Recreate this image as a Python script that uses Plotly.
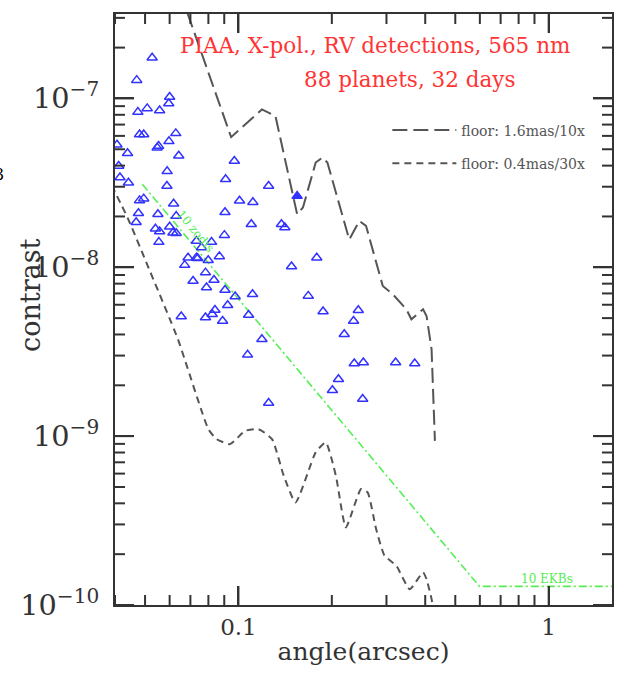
import math
import plotly.graph_objects as go

# ---------------- data ----------------
planet_angle = [0.0527, 0.0470, 0.0600, 0.0596, 0.0474, 0.0508, 0.0557, 0.0480, 0.0495, 0.0628,
                0.0597, 0.0553, 0.0547, 0.0406, 0.0439, 0.0642, 0.0411, 0.0415, 0.0442, 0.0589,
                0.0588, 0.0970, 0.0909, 0.0480, 0.0495, 0.0618, 0.1008, 0.1113, 0.0476, 0.0550,
                0.0905, 0.0630, 0.0468, 0.0540, 0.0557, 0.0600, 0.0615, 0.0630, 0.1100, 0.1376,
                0.1411, 0.0901, 0.0554, 0.0732, 0.0819, 0.0760, 0.0688, 0.0732, 0.0739, 0.0799,
                0.0868, 0.0671, 0.1483, 0.0783, 0.0714, 0.0834, 0.0789, 0.0905, 0.0976, 0.1110,
                0.1679, 0.0923, 0.0840, 0.0823, 0.0654, 0.0783, 0.0889, 0.1078, 0.1190, 0.1070,
                0.1251, 0.1788, 0.1874, 0.2434, 0.2350, 0.2193, 0.2362, 0.2527, 0.3211, 0.3700,
                0.2101, 0.2009, 0.2514, 0.1251]
planet_contrast = [1.74e-7, 1.283e-7, 1.02e-7, 9.34e-8, 8.30e-8, 8.73e-8, 8.49e-8, 6.12e-8, 6.12e-8, 6.21e-8,
                   5.57e-8, 5.22e-8, 5.11e-8, 5.32e-8, 4.73e-8, 4.58e-8, 3.98e-8, 3.40e-8, 3.17e-8, 3.70e-8,
                   3.03e-8, 4.26e-8, 3.32e-8, 2.49e-8, 2.55e-8, 2.38e-8, 2.48e-8, 2.43e-8, 2.09e-8, 2.06e-8,
                   2.12e-8, 2.01e-8, 1.85e-8, 1.69e-8, 1.63e-8, 1.74e-8, 1.60e-8, 1.59e-8, 1.80e-8, 1.80e-8,
                   1.72e-8, 1.55e-8, 1.41e-8, 1.43e-8, 1.41e-8, 1.31e-8, 1.14e-8, 1.14e-8, 1.13e-8, 1.10e-8,
                   1.16e-8, 1.03e-8, 1.01e-8, 9.30e-9, 8.30e-9, 8.41e-9, 7.59e-9, 7.34e-9, 6.71e-9, 6.92e-9,
                   6.77e-9, 5.96e-9, 5.59e-9, 5.27e-9, 5.11e-9, 5.04e-9, 4.81e-9, 5.22e-9, 3.75e-9, 3.03e-9,
                   3.03e-8, 1.14e-8, 5.47e-9, 5.57e-9, 4.81e-9, 4.01e-9, 2.69e-9, 2.73e-9, 2.73e-9, 2.69e-9,
                   2.17e-9, 1.87e-9, 1.66e-9, 1.57e-9]
filled_angle = [0.1546]
filled_contrast = [2.64e-8]

floor_16_angle = [0.0685, 0.0947, 0.1190, 0.1316, 0.1546, 0.1614, 0.1774, 0.1864, 0.1935, 0.2276,
                  0.2453, 0.2578, 0.2919, 0.3145, 0.3477, 0.3609, 0.3937, 0.4039, 0.4193, 0.4298]
floor_16_contrast = [3.2e-7, 5.90e-8, 8.61e-8, 7.86e-8, 2.06e-8, 2.26e-8, 4.17e-8, 4.46e-8, 4.17e-8, 1.46e-8,
                     1.88e-8, 1.76e-8, 7.75e-9, 6.92e-9, 5.64e-9, 4.92e-9, 5.64e-9, 5.15e-9, 3.27e-9, 9.38e-10]

floor_04_angle = [0.039, 0.0439, 0.0510, 0.0638, 0.0800, 0.0850, 0.0940, 0.1051, 0.1161, 0.1283,
                  0.1400, 0.1528, 0.1774, 0.1912, 0.2061, 0.2220, 0.2484, 0.2609, 0.2778, 0.2957,
                  0.3228, 0.3564, 0.3937, 0.4039, 0.4193, 0.427]
floor_04_contrast = [3.06e-8, 1.97e-8, 1.02e-8, 3.75e-9, 1.10e-9, 9.6e-10, 8.97e-10, 1.075e-9, 1.10e-9, 9.6e-10,
                     5.82e-10, 4.05e-10, 8.01e-10, 9.18e-10, 5.82e-10, 2.88e-10, 4.86e-10, 4.64e-10, 2.82e-10, 1.96e-10,
                     1.71e-10, 1.24e-10, 1.56e-10, 1.42e-10, 1.085e-10, 9e-11]

zodi_angle = [0.049, 0.598, 1.7]
zodi_contrast = [3.1e-8, 1.29e-10, 1.29e-10]

legend_labels = ["floor: 1.6mas/10x", "floor: 0.4mas/30x"]
title_lines = ["PIAA, X-pol., RV detections, 565 nm", "88 planets, 32 days"]

# axis settings
x_range = [0.04, 1.6]
y_range = [1e-10, 10 ** -6.5]
x_major = [0.01, 0.1, 1.0, 10.0]
y_major = [1e-10, 1e-9, 1e-8, 1e-7]
x_minor = [k * 10.0 ** e for e in (-2, -1, 0) for k in range(2, 10)]
y_minor = [k * 10.0 ** e for e in (-10, -9, -8, -7) for k in range(2, 10)]

# ---------------- layout constants ----------------
W, H = 625, 685
ML, MR, MT, MB = 115, 13, 14, 80
PLOT_W, PLOT_H = W - ML - MR, H - MT - MB
MAJOR_LEN, MINOR_LEN = 19, 10

SERIF = "DejaVu Serif"
GRAY = "#555555"
AX = "#333333"
BLUE = "rgb(50,50,255)"
GREEN = "#55ee55"
RED = "#ff3535"

xr = [math.log10(v) for v in x_range]
yr = [math.log10(v) for v in y_range]


def frac(v, r):
    return (math.log10(v) - r[0]) / (r[1] - r[0])


# inward tick marks on all four sides, placed with the axis' own log mapping (paper fractions)
tick_shapes = []
for vals, length in ((x_major, MAJOR_LEN), (x_minor, MINOR_LEN)):
    d = length / PLOT_H
    for v in vals:
        f = frac(v, xr)
        if 0 <= f <= 1:
            tick_shapes.append(dict(type="line", xref="paper", yref="paper", x0=f, x1=f, y0=0, y1=d,
                                    line=dict(color=AX, width=2), layer="above"))
            tick_shapes.append(dict(type="line", xref="paper", yref="paper", x0=f, x1=f, y0=1, y1=1 - d,
                                    line=dict(color=AX, width=2), layer="above"))
for vals, length in ((y_major, MAJOR_LEN), (y_minor, MINOR_LEN)):
    d = length / PLOT_W
    for v in vals:
        f = frac(v, yr)
        if 0 <= f <= 1:
            tick_shapes.append(dict(type="line", xref="paper", yref="paper", x0=0, x1=d, y0=f, y1=f,
                                    line=dict(color=AX, width=2), layer="above"))
            tick_shapes.append(dict(type="line", xref="paper", yref="paper", x0=1, x1=1 - d, y0=f, y1=f,
                                    line=dict(color=AX, width=2), layer="above"))

# ---------------- figure ----------------
fig = go.Figure()

fig.add_trace(go.Scatter(x=zodi_angle, y=zodi_contrast, mode="lines",
                         line=dict(color=GREEN, width=1.6, dash="8px,3px,2px,3px"),
                         showlegend=False, hoverinfo="skip"))
fig.add_trace(go.Scatter(x=floor_16_angle, y=floor_16_contrast, mode="lines",
                         name=legend_labels[0], legendgroup="a",
                         line=dict(color=GRAY, width=2, dash="15px,6px")))
fig.add_trace(go.Scatter(x=floor_04_angle, y=floor_04_contrast, mode="lines",
                         name=legend_labels[1], legendgroup="b",
                         line=dict(color=GRAY, width=2, dash="7px,5px", shape="spline", smoothing=0.5)))
fig.add_trace(go.Scatter(x=planet_angle, y=planet_contrast, mode="markers",
                         marker=dict(symbol="triangle-up-open", size=9, color=BLUE,
                                     line=dict(color=BLUE, width=1.5)),
                         showlegend=False))
fig.add_trace(go.Scatter(x=filled_angle, y=filled_contrast, mode="markers",
                         marker=dict(symbol="triangle-up", size=9, color=BLUE,
                                     line=dict(color=BLUE, width=1.5)),
                         showlegend=False))

main = dict(type="log", dtick=1, ticks="inside", ticklen=MAJOR_LEN, tickwidth=2, tickcolor=AX,
            showline=True, linewidth=2, linecolor=AX, mirror="ticks",
            showgrid=False, zeroline=False, automargin=False,
            tickfont=dict(family=SERIF, size=23, color=AX))

fig.update_layout(
    xaxis=dict(**main, range=xr,
               title=dict(text="angle(arcsec)", font=dict(family=SERIF, size=25, color=AX), standoff=4)),
    yaxis=dict(**main, range=yr, exponentformat="power", ticksuffix=" "),
)

annotations = [
    dict(text=title_lines[0], xref="paper", yref="paper", x=0.524, y=0.946, yanchor="middle",
         showarrow=False, font=dict(family=SERIF, size=21.5, color=RED)),
    dict(text=title_lines[1], xref="paper", yref="paper", x=0.594, y=0.890, yanchor="middle",
         showarrow=False, font=dict(family=SERIF, size=21.5, color=RED)),
    dict(text="contrast", xref="paper", yref="paper", x=-0.169, y=0.523, xanchor="center",
         yanchor="middle", textangle=-90, showarrow=False,
         font=dict(family=SERIF, size=27, color=AX)),
    dict(text="10 zodis", x=math.log10(0.0725), y=math.log10(1.63e-8), showarrow=False,
         textangle=50, font=dict(family=SERIF, size=12, color=GREEN)),
    dict(text="10 EKBs", x=math.log10(0.985), y=math.log10(1.43e-10), showarrow=False,
         font=dict(family=SERIF, size=12, color=GREEN)),
    dict(text="3", xref="paper", yref="paper", x=-0.2193, y=0.729, xanchor="right", yanchor="middle",
         showarrow=False, font=dict(family=SERIF, size=16, color="black")),
]

fig.update_layout(
    width=W, height=H,
    margin=dict(l=ML, r=MR, t=MT, b=MB),
    paper_bgcolor="white", plot_bgcolor="white",
    annotations=annotations,
    shapes=tick_shapes,
    showlegend=True,
    legend=dict(x=0.548, y=0.83, xanchor="left", yanchor="top", bgcolor="rgba(0,0,0,0)",
                font=dict(family=SERIF, size=14, color=GRAY), itemwidth=64, tracegroupgap=12),
)

fig.write_html("out.html")
